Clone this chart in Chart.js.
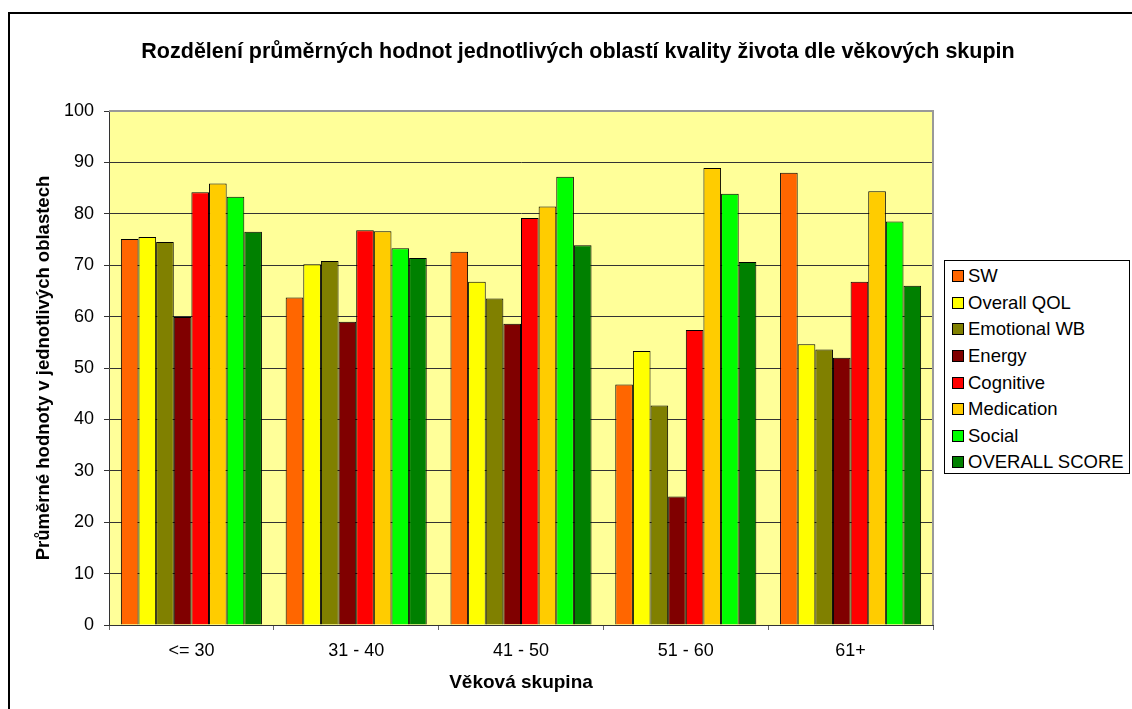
<!DOCTYPE html>
<html>
<head>
<meta charset="utf-8">
<script src="https://cdn.jsdelivr.net/npm/chart.js@4"></script>
<style>
  body { margin: 0; background: #fff; }
  #wrap { position: relative; width: 1132px; height: 709px; overflow: hidden; }
  #legend {
    position: absolute; left: 944px; top: 260px; width: 186px; height: 214px;
    box-sizing: border-box; border: 1px solid #000; background: #fff;
    font-family: Arial, "Liberation Sans", sans-serif; font-size: 18.5px; color: #000;
    padding-top: 2px;
  }
  .item { height: 26.6px; display: flex; align-items: center; padding-left: 7px; white-space: nowrap; }
  .box { width: 10px; height: 10px; border: 1px solid #000; margin-right: 4px; flex: none; }
</style>
</head>
<body>
<div id="wrap">
  <canvas id="chart" width="1132" height="709"></canvas>
  <div id="legend"></div>
</div>
<script>
// data
const categories = ['<= 30', '31 - 40', '41 - 50', '51 - 60', '61+'];
const seriesNames = ['SW', 'Overall QOL', 'Emotional WB', 'Energy', 'Cognitive', 'Medication', 'Social', 'OVERALL SCORE'];
const sw = [75.1, 63.7, 72.6, 46.8, 88.0];
const overallQol = [75.5, 70.2, 66.8, 53.3, 54.6];
const emotionalWb = [74.5, 70.8, 63.5, 42.7, 53.6];
const energy = [59.9, 59.0, 58.6, 25.0, 52.0];
const cognitive = [84.2, 76.8, 79.2, 57.4, 66.8];
const medication = [85.9, 76.6, 81.4, 88.9, 84.4];
const social = [83.3, 73.3, 87.2, 83.9, 78.5];
const overallScore = [76.5, 71.4, 73.9, 70.6, 66.0];
const yTicks = [0, 10, 20, 30, 40, 50, 60, 70, 80, 90, 100];

const seriesValues = [sw, overallQol, emotionalWb, energy, cognitive, medication, social, overallScore];
const colors = ['#FF6600', '#FFFF00', '#808000', '#800000', '#FF0000', '#FFCC00', '#00FF00', '#008000'];

const font = 'Arial, "Liberation Sans", sans-serif';
const titleText = 'Rozdělení průměrných hodnot jednotlivých oblastí kvality života dle věkových skupin';

// frame, plot background, plot border and the centred title
const plotBg = {
  id: 'plotBg',
  beforeDraw(chart) {
    const { ctx, chartArea: a } = chart;
    ctx.save();
    ctx.fillStyle = '#fff';
    ctx.fillRect(0, 0, chart.width, chart.height);
    ctx.strokeStyle = '#000';
    ctx.lineWidth = 2;
    ctx.strokeRect(9, 13, 1300, 900);
    ctx.fillStyle = '#FFFF99';
    ctx.fillRect(a.left, a.top, a.right - a.left, a.bottom - a.top);
    ctx.restore();
  },
  afterDatasetsDraw(chart) {
    const { ctx, chartArea: a } = chart;
    ctx.save();
    ctx.strokeStyle = '#999';
    ctx.lineWidth = 2;
    ctx.beginPath();
    ctx.moveTo(a.left, a.top);
    ctx.lineTo(a.right, a.top);
    ctx.lineTo(a.right, a.bottom);
    ctx.stroke();
    ctx.restore();
  },
  afterDraw(chart) {
    const { ctx } = chart;
    ctx.save();
    ctx.fillStyle = '#000';
    ctx.font = 'bold 21.5px ' + font;
    ctx.textAlign = 'center';
    ctx.textBaseline = 'middle';
    ctx.fillText(titleText, 578, 52);
    ctx.restore();
  }
};

new Chart(document.getElementById('chart'), {
  type: 'bar',
  data: {
    labels: categories,
    datasets: seriesNames.map((name, i) => ({
      label: name,
      data: seriesValues[i],
      backgroundColor: colors[i],
      borderColor: '#000',
      borderWidth: 1,
      categoryPercentage: 0.856,
      barPercentage: 1
    }))
  },
  options: {
    responsive: false,
    animation: false,
    layout: { padding: { left: 0, right: 199, top: 111, bottom: 0 } },
    plugins: {
      legend: { display: false },
      tooltip: { enabled: false },
      title: { display: false }
    },
    scales: {
      x: {
        afterFit: s => { s.height = 84; },
        grid: { offset: true, drawOnChartArea: false, tickLength: 5, color: '#666' },
        border: { color: '#333', width: 1 },
        ticks: { color: '#000', font: { family: font, size: 18 }, padding: 10 },
        title: {
          display: true, text: 'Věková skupina', color: '#000',
          font: { family: font, size: 19, weight: 'bold' }, padding: { top: 0, bottom: 15 }
        }
      },
      y: {
        min: 0, max: 100,
        afterFit: s => { s.width = 109; },
        afterBuildTicks: s => { s.ticks = yTicks.map(v => ({ value: v })); },
        grid: { color: '#333', tickLength: 5 },
        border: { color: '#333', width: 1 },
        ticks: { color: '#000', font: { family: font, size: 18 }, padding: 10 },
        title: {
          display: true, text: 'Průměrné hodnoty v jednotlivých oblastech', color: '#000',
          font: { family: font, size: 18.5, weight: 'bold' }, padding: { top: 33, bottom: 0 }
        }
      }
    }
  },
  plugins: [plotBg]
});

// legend
const legend = document.getElementById('legend');
seriesNames.forEach((name, i) => {
  const row = document.createElement('div');
  row.className = 'item';
  const box = document.createElement('span');
  box.className = 'box';
  box.style.background = colors[i];
  row.appendChild(box);
  row.appendChild(document.createTextNode(name));
  legend.appendChild(row);
});
</script>
</body>
</html>
